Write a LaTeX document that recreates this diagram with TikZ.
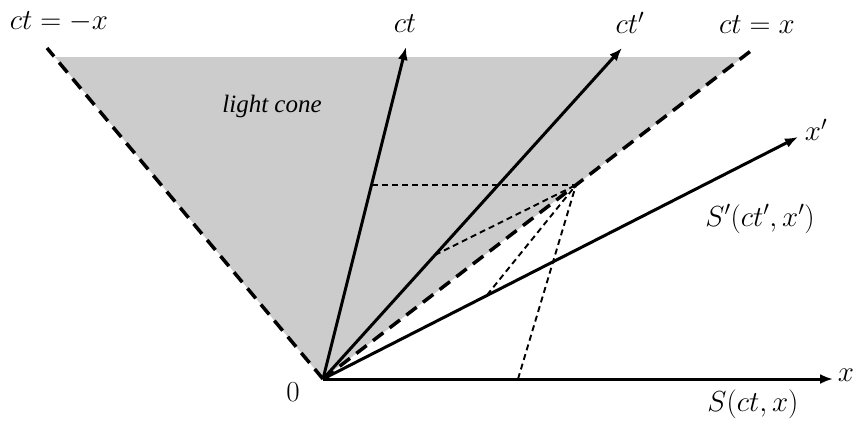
\documentclass[tikz,border=0pt]{standalone}
\usepackage{fix-cm}
\usepackage{fontspec}
\newfontfamily\timesfont{Liberation Serif}
\usetikzlibrary{arrows.meta}
\begin{document}
\begin{tikzpicture}[x=1pt,y=-1pt,
  axis/.style={line width=3pt,-{Latex[length=13pt,width=10pt]}},
  cone/.style={line width=3.5pt,dash pattern=on 13pt off 8pt},
  proj/.style={line width=1.9pt,dash pattern=on 6pt off 4pt},
  lbl/.style={font=\fontsize{29}{32}\selectfont,inner sep=0pt}]
\definecolor{conegray}{RGB}{204,204,204}
\useasboundingbox (0,0) rectangle (857,424);
% key points
\coordinate (O) at (323,379);
\coordinate (L) at (47,48);
\coordinate (R) at (752,50);
\coordinate (GL) at (55,57);
\coordinate (GR) at (743,57);
\coordinate (CT) at (406,47);
\coordinate (CTp) at (622,48);
\coordinate (Xp) at (798,137);
\coordinate (X) at (833,379);
\coordinate (P) at (576,185);
\coordinate (Pct) at (372,185);
\coordinate (Pctp) at (435,255);
\coordinate (Pxp) at (487,295);
\coordinate (Px) at (518,379);
% light cone
\fill[conegray] (O) -- (GL) -- (GR) -- cycle;
\draw[cone] (O) -- (L);
\draw[cone] (O) -- (R);
% projections
\draw[proj] (Pct) -- (P);
\draw[proj] (Pctp) -- (P);
\draw[proj] (Pxp) -- (P);
\draw[proj] (Px) -- (P);
% axes
\draw[axis] (O) -- (CT);
\draw[axis] (O) -- (CTp);
\draw[axis] (O) -- (Xp);
\draw[axis] (O) -- (X);
% labels
\node[lbl] (lL) at (59,22) {$ct=-x$};
\node[lbl] (lCT) at (405,24) {$ct$};
\node[lbl] (lCTp) at (630,23) {$ct'$};
\node[lbl] (lR) at (757,25) {$ct=x$};
\node[lbl] (lXp) at (816,130) {$x'$};
\node[lbl] (lSp) at (760,219) {$S'(ct',x')$};
\node[lbl] (lX) at (846,375) {$x$};
\node[lbl] (lS) at (753,404) {$S(ct,x)$};
\node[lbl] (l0) at (293,392) {$0$};
\node[font=\timesfont\itshape\fontsize{25}{28}\selectfont,inner sep=0pt] (lc) at (272,106) {light cone};
\end{tikzpicture}
\end{document}
